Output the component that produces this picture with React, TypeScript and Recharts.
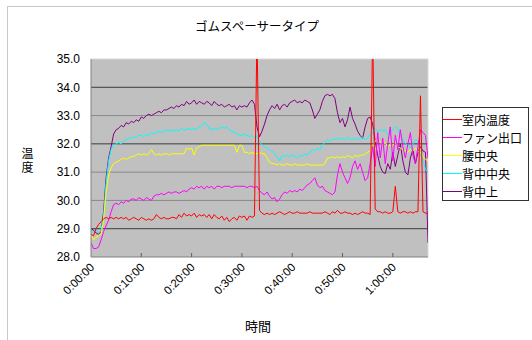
import { LineChart, Line, XAxis, YAxis, CartesianGrid, ReferenceLine } from "recharts";

// 測定時刻（分）
const TIME_MIN = [
  0, 0.5, 1, 1.5, 2, 2.5, 3, 3.5, 4, 4.5,
  5, 5.5, 6, 6.5, 7, 7.5, 8, 8.5, 9, 9.5,
  10, 10.5, 11, 11.5, 12, 12.5, 13, 13.5, 14, 14.5,
  15, 15.5, 16, 16.5, 17, 17.5, 18, 18.5, 19, 19.5,
  20, 20.5, 21, 21.5, 22, 22.5, 23, 23.5, 24, 24.5,
  25, 25.5, 26, 26.5, 27, 27.5, 28, 28.5, 29, 29.5,
  30, 30.5, 31, 31.5, 32, 32.5, 33, 33.5, 34, 34.5,
  35, 35.5, 36, 36.5, 37, 37.5, 38, 38.5, 39, 39.5,
  40, 40.5, 41, 41.5, 42, 42.5, 43, 43.5, 44, 44.5,
  45, 45.5, 46, 46.5, 47, 47.5, 48, 48.5, 49, 49.5,
  50, 50.5, 51, 51.5, 52, 52.5, 53, 53.5, 54, 54.5,
  55, 55.5, 56, 56.5, 57, 57.5, 58, 58.5, 59, 59.5,
  60, 60.5, 61, 61.5, 62, 62.5, 63, 63.5, 64, 64.5,
  65, 65.5, 66, 66.5, 67,
];

const ROOM = [
  28.8, 28.75, 29.0, 29.15, 29.25, 29.35, 29.4, 29.35, 29.4, 29.35,
  29.4, 29.35, 29.4, 29.35, 29.4, 29.3, 29.35, 29.4, 29.35, 29.3,
  29.4, 29.35, 29.3, 29.35, 29.3, 29.35, 29.5, 29.4, 29.35, 29.4,
  29.35, 29.35, 29.4, 29.4, 29.35, 29.5, 29.4, 29.55, 29.45, 29.5,
  29.45, 29.55, 29.4, 29.5, 29.45, 29.5, 29.4, 29.5, 29.35, 29.5,
  29.4, 29.35, 29.45, 29.3, 29.4, 29.25, 29.35, 29.4, 29.3, 29.45,
  29.4, 29.45, 29.3, 29.45, 29.4, 29.45, 36.0, 29.65, 29.55, 29.5,
  29.55, 29.5, 29.55, 29.5, 29.55, 29.6, 29.55, 29.5, 29.55, 29.6,
  29.55, 29.55, 29.6, 29.55, 29.55, 29.55, 29.55, 29.6, 29.55, 29.55,
  29.55, 29.55, 29.55, 29.6, 29.55, 29.5, 29.6, 29.55, 29.65, 29.55,
  29.55, 29.6, 29.55, 29.55, 29.5, 29.55, 29.5, 29.55, 29.6, 29.55,
  29.55, 29.5, 36.0, 29.7, 29.6, 29.6, 29.55, 29.6, 29.55, 29.55,
  29.6, 30.5, 29.6, 29.55, 29.6, 29.6, 29.55, 29.6, 29.55, 29.6,
  29.6, 33.7, 29.6, 29.55, 29.55,
];

const FAN = [
  28.5, 28.3, 28.3, 28.35, 28.6, 28.9, 29.1, 29.3, 29.6, 29.85,
  29.9, 29.85, 29.95, 29.9, 30.0, 29.95, 30.05, 30.05, 30.0, 30.1,
  30.05, 30.0, 30.1, 30.05, 30.0, 30.15, 30.2, 30.2, 30.25, 30.2,
  30.25, 30.3, 30.25, 30.3, 30.3, 30.25, 30.3, 30.35, 30.3, 30.4,
  30.45, 30.4, 30.5, 30.45, 30.5, 30.4, 30.5, 30.45, 30.5, 30.4,
  30.5, 30.5, 30.45, 30.5, 30.5, 30.5, 30.45, 30.5, 30.5, 30.5,
  30.5, 30.5, 30.45, 30.5, 30.5, 30.45, 30.5, 30.35, 30.25, 30.2,
  30.3, 30.15, 30.05, 30.1, 29.95, 30.05, 30.2, 30.3, 30.25, 30.35,
  30.3, 30.35, 30.3, 30.4, 30.35, 30.45, 30.55, 30.6, 30.7, 30.8,
  30.55, 30.45, 30.5, 30.35, 30.3, 30.25, 30.2, 30.3, 30.9, 31.3,
  31.0, 30.8, 30.6, 30.8, 31.2, 31.4, 31.1, 31.3, 31.0, 30.7,
  30.8, 31.3, 31.9, 31.2, 32.4, 31.5, 32.2, 31.3, 32.0, 32.6,
  31.4, 32.3, 31.8, 32.5, 31.9, 31.5, 32.0, 32.4, 31.6, 31.3,
  31.9, 32.5, 32.4, 32.3, 31.5,
];

const WAIST = [
  28.8, 28.6, 28.7, 28.75, 28.8, 29.3, 30.3, 30.9, 31.15, 31.3,
  31.35, 31.4, 31.45, 31.5, 31.45, 31.5, 31.55, 31.55, 31.6, 31.65,
  31.6, 31.65, 31.6, 31.65, 31.8, 31.65, 31.6, 31.65, 31.6, 31.65,
  31.65, 31.6, 31.65, 31.65, 31.65, 31.65, 31.65, 31.65, 31.85, 31.8,
  31.85, 31.6, 31.85, 31.9, 31.95, 31.95, 31.95, 31.95, 31.95, 31.95,
  31.95, 31.95, 31.95, 31.95, 31.95, 31.95, 31.95, 31.95, 31.7, 31.95,
  31.95, 31.7, 31.7, 31.65, 31.7, 31.65, 31.65, 31.7, 31.65, 31.65,
  31.5, 31.35, 31.3, 31.3, 31.25, 31.3, 31.25, 31.25, 31.3, 31.25,
  31.25, 31.3, 31.25, 31.25, 31.25, 31.25, 31.3, 31.25, 31.25, 31.25,
  31.25, 31.25, 31.25, 31.3, 31.5, 31.5, 31.55, 31.5, 31.55, 31.5,
  31.55, 31.5, 31.6, 31.55, 31.5, 31.6, 31.55, 31.6, 31.6, 31.65,
  31.7, 31.75, 31.85, 32.1, 32.15, 32.05, 31.95, 32.05, 31.9, 32.0,
  31.95, 32.05, 31.9, 31.85, 31.8, 31.75, 31.7, 31.8, 31.75, 31.85,
  31.75, 31.7, 31.55, 31.45, 31.4,
];

const BACK_MID = [
  28.95, 28.9, 28.95, 28.85, 28.95, 29.4, 30.6, 31.4, 31.8, 31.95,
  32.0, 32.05, 32.0, 32.1, 32.15, 32.2, 32.2, 32.25, 32.2, 32.3,
  32.3, 32.25, 32.35, 32.3, 32.4, 32.35, 32.4, 32.45, 32.4, 32.45,
  32.5, 32.45, 32.5, 32.45, 32.5, 32.45, 32.55, 32.5, 32.5, 32.55,
  32.5, 32.55, 32.5, 32.6, 32.65, 32.75, 32.7, 32.55, 32.5, 32.55,
  32.5, 32.55, 32.6, 32.55, 32.6, 32.5, 32.45, 32.4, 32.35, 32.3,
  32.3, 32.35, 32.3, 32.25, 32.3, 32.2, 32.25, 32.1, 31.95, 31.9,
  31.85, 31.8, 31.75, 31.65, 31.55, 31.4, 31.6, 31.55, 31.6, 31.55,
  31.6, 31.55, 31.5, 31.6, 31.55, 31.65, 31.6, 31.7, 31.8, 31.75,
  31.85, 31.8, 31.95, 32.05, 32.15, 32.1, 32.2, 32.15, 32.2, 32.15,
  32.2, 32.15, 32.25, 32.15, 32.2, 32.15, 32.2, 32.15, 32.25, 32.15,
  32.2, 32.35, 32.45, 32.5, 32.45, 32.5, 32.45, 32.5, 32.35, 32.45,
  32.5, 32.6, 32.55, 32.3, 32.15, 32.0, 31.95, 31.85, 32.0, 32.15,
  32.1, 31.6, 31.4, 31.1, 31.0,
];

const BACK_TOP = [
  29.0, 28.95, 28.85, 28.8, 28.9, 29.6, 30.8, 31.5, 31.9, 32.35,
  32.5, 32.55, 32.65, 32.6, 32.75, 32.7, 32.8, 32.75, 32.85, 32.8,
  32.95, 32.9, 33.0, 33.05, 33.0, 33.05, 33.1, 33.15, 33.1, 33.2,
  33.2, 33.25, 33.3, 33.25, 33.35, 33.3, 33.4, 33.35, 33.5, 33.4,
  33.45, 33.55, 33.4, 33.5, 33.45, 33.4, 33.5, 33.45, 33.35, 33.5,
  33.4, 33.35, 33.4, 33.3, 33.35, 33.4, 33.3, 33.35, 33.2, 33.35,
  33.3, 33.35, 33.3, 33.45, 33.55, 33.4, 32.6, 32.25, 32.45, 32.7,
  33.0, 33.2, 33.35, 33.25, 33.4, 33.2, 33.35, 33.4, 33.3, 33.45,
  33.5, 33.55, 33.45, 33.5, 33.45, 33.55, 33.5, 33.45, 33.2, 32.9,
  33.05, 33.2, 33.5, 33.7, 33.75, 33.7, 33.75, 33.6, 33.1, 32.75,
  32.9, 32.6, 32.85, 33.3, 32.9, 32.7, 32.45, 32.3, 32.2, 32.6,
  32.9, 32.95, 32.7, 32.1, 31.6, 31.2, 31.0, 30.95, 31.3, 31.1,
  31.7, 31.2, 31.6, 32.0, 31.4, 31.0, 30.9, 31.5, 31.8, 31.3,
  31.7, 31.9, 31.75, 31.7, 28.5,
];

const X_TICKS = [0, 10, 20, 30, 40, 50, 60];
const X_TICK_LABELS = ["0:00:00", "0:10:00", "0:20:00", "0:30:00", "0:40:00", "0:50:00", "1:00:00"];
const Y_TICKS = [28, 29, 30, 31, 32, 33, 34, 35];
const GRID_DARK = [34, 32, 29];
const GRID_LIGHT = [33, 31, 30];

const SERIES = [
  { key: "room", name: "室内温度", color: "#ff0000", values: ROOM },
  { key: "fan", name: "ファン出口", color: "#ff00ff", values: FAN },
  { key: "waist", name: "腰中央", color: "#ffff00", values: WAIST },
  { key: "backMid", name: "背中中央", color: "#00ffff", values: BACK_MID },
  { key: "backTop", name: "背中上", color: "#800080", values: BACK_TOP },
];

const data = TIME_MIN.map((t, i) => {
  const row: Record<string, number> = { t };
  SERIES.forEach((s) => {
    row[s.key] = s.values[i];
  });
  return row;
});

const JP = '"Noto Sans CJK JP", "Noto Sans", sans-serif';
const NUM = '"Liberation Sans", Arial, sans-serif';

function TimeTick({ x, y, index }: any) {
  return (
    <g>
      {index > 0 && <line x1={x} x2={x} y1={y} y2={y - 4} stroke="#606060" />}
      <text
        x={x + 4}
        y={y + 11}
        transform={`rotate(-45 ${x + 4} ${y + 11})`}
        textAnchor="end"
        fontSize={11.5}
        fontFamily={NUM}
        fill="#000"
      >
        {X_TICK_LABELS[index]}
      </text>
    </g>
  );
}

export default function App() {
  // 描画順は背中上が奥、室内温度が手前
  const drawOrder = [...SERIES].reverse();
  return (
    <div style={{ position: "absolute", left: 0, top: 0, width: 532, height: 340, background: "#fff", fontFamily: JP }}>
      <div
        style={{
          position: "absolute",
          left: 7,
          top: 6,
          width: 540,
          height: 350,
          borderTop: "1px solid #c8c8c8",
          borderLeft: "1px solid #c8c8c8",
        }}
      />
      <div style={{ position: "absolute", left: 0, width: 514, top: 16, textAlign: "center", fontSize: 12.5 }}>
        ゴムスペーサータイプ
      </div>
      {/* 縦に積んだ軸タイトル（1つのテキストを折り返す） */}
      <div
        style={{
          position: "absolute",
          left: 21,
          top: 146,
          width: 13,
          fontSize: 12,
          lineHeight: "14px",
          wordBreak: "break-all",
          textAlign: "center",
        }}
      >
        温度
      </div>
      <div style={{ position: "absolute", left: 228, width: 60, top: 316, textAlign: "center", fontSize: 13 }}>
        時間
      </div>

      <LineChart width={532} height={340} data={data} margin={{ top: 59, right: 104, bottom: 0, left: 0 }}>
        <CartesianGrid horizontal={false} vertical={false} fill="#c0c0c0" />
        <XAxis
          dataKey="t"
          type="number"
          domain={[0, 67]}
          ticks={X_TICKS}
          interval={0}
          height={83}
          tickSize={0}
          tickMargin={0}
          tick={<TimeTick />}
          axisLine={{ stroke: "#808080" }}
          allowDataOverflow
        />
        <YAxis
          type="number"
          domain={[28, 35]}
          ticks={Y_TICKS}
          width={91}
          tickSize={0}
          tickMargin={11}
          tickFormatter={(v: number) => v.toFixed(1)}
          tick={{ fontSize: 12, fill: "#000", fontFamily: NUM }}
          axisLine={{ stroke: "#808080" }}
          allowDataOverflow
        />
        {GRID_LIGHT.map((v) => (
          <ReferenceLine key={`l${v}`} y={v} stroke="#8a8a8a" />
        ))}
        {GRID_DARK.map((v) => (
          <ReferenceLine key={`d${v}`} y={v} stroke="#3a3a3a" />
        ))}
        <ReferenceLine y={35} stroke="#d8d8d8" />
        <ReferenceLine x={67} stroke="#d8d8d8" />
        {drawOrder.map((s) => (
          <Line
            key={s.key}
            type="linear"
            dataKey={s.key}
            name={s.name}
            stroke={s.color}
            strokeWidth={1}
            dot={false}
            activeDot={false}
            isAnimationActive={false}
          />
        ))}
      </LineChart>

      <div
        style={{
          position: "absolute",
          left: 442,
          top: 107,
          width: 87,
          height: 94,
          boxSizing: "border-box",
          border: "1px solid #333",
          background: "#fff",
          paddingTop: 2,
        }}
      >
        {SERIES.map((s) => (
          <div key={s.key} style={{ display: "flex", alignItems: "center", height: 18 }}>
            <span style={{ display: "inline-block", width: 19, borderTop: `1px solid ${s.color}` }} />
            <span style={{ fontSize: 12, letterSpacing: 0, whiteSpace: "nowrap" }}>{s.name}</span>
          </div>
        ))}
      </div>
    </div>
  );
}
